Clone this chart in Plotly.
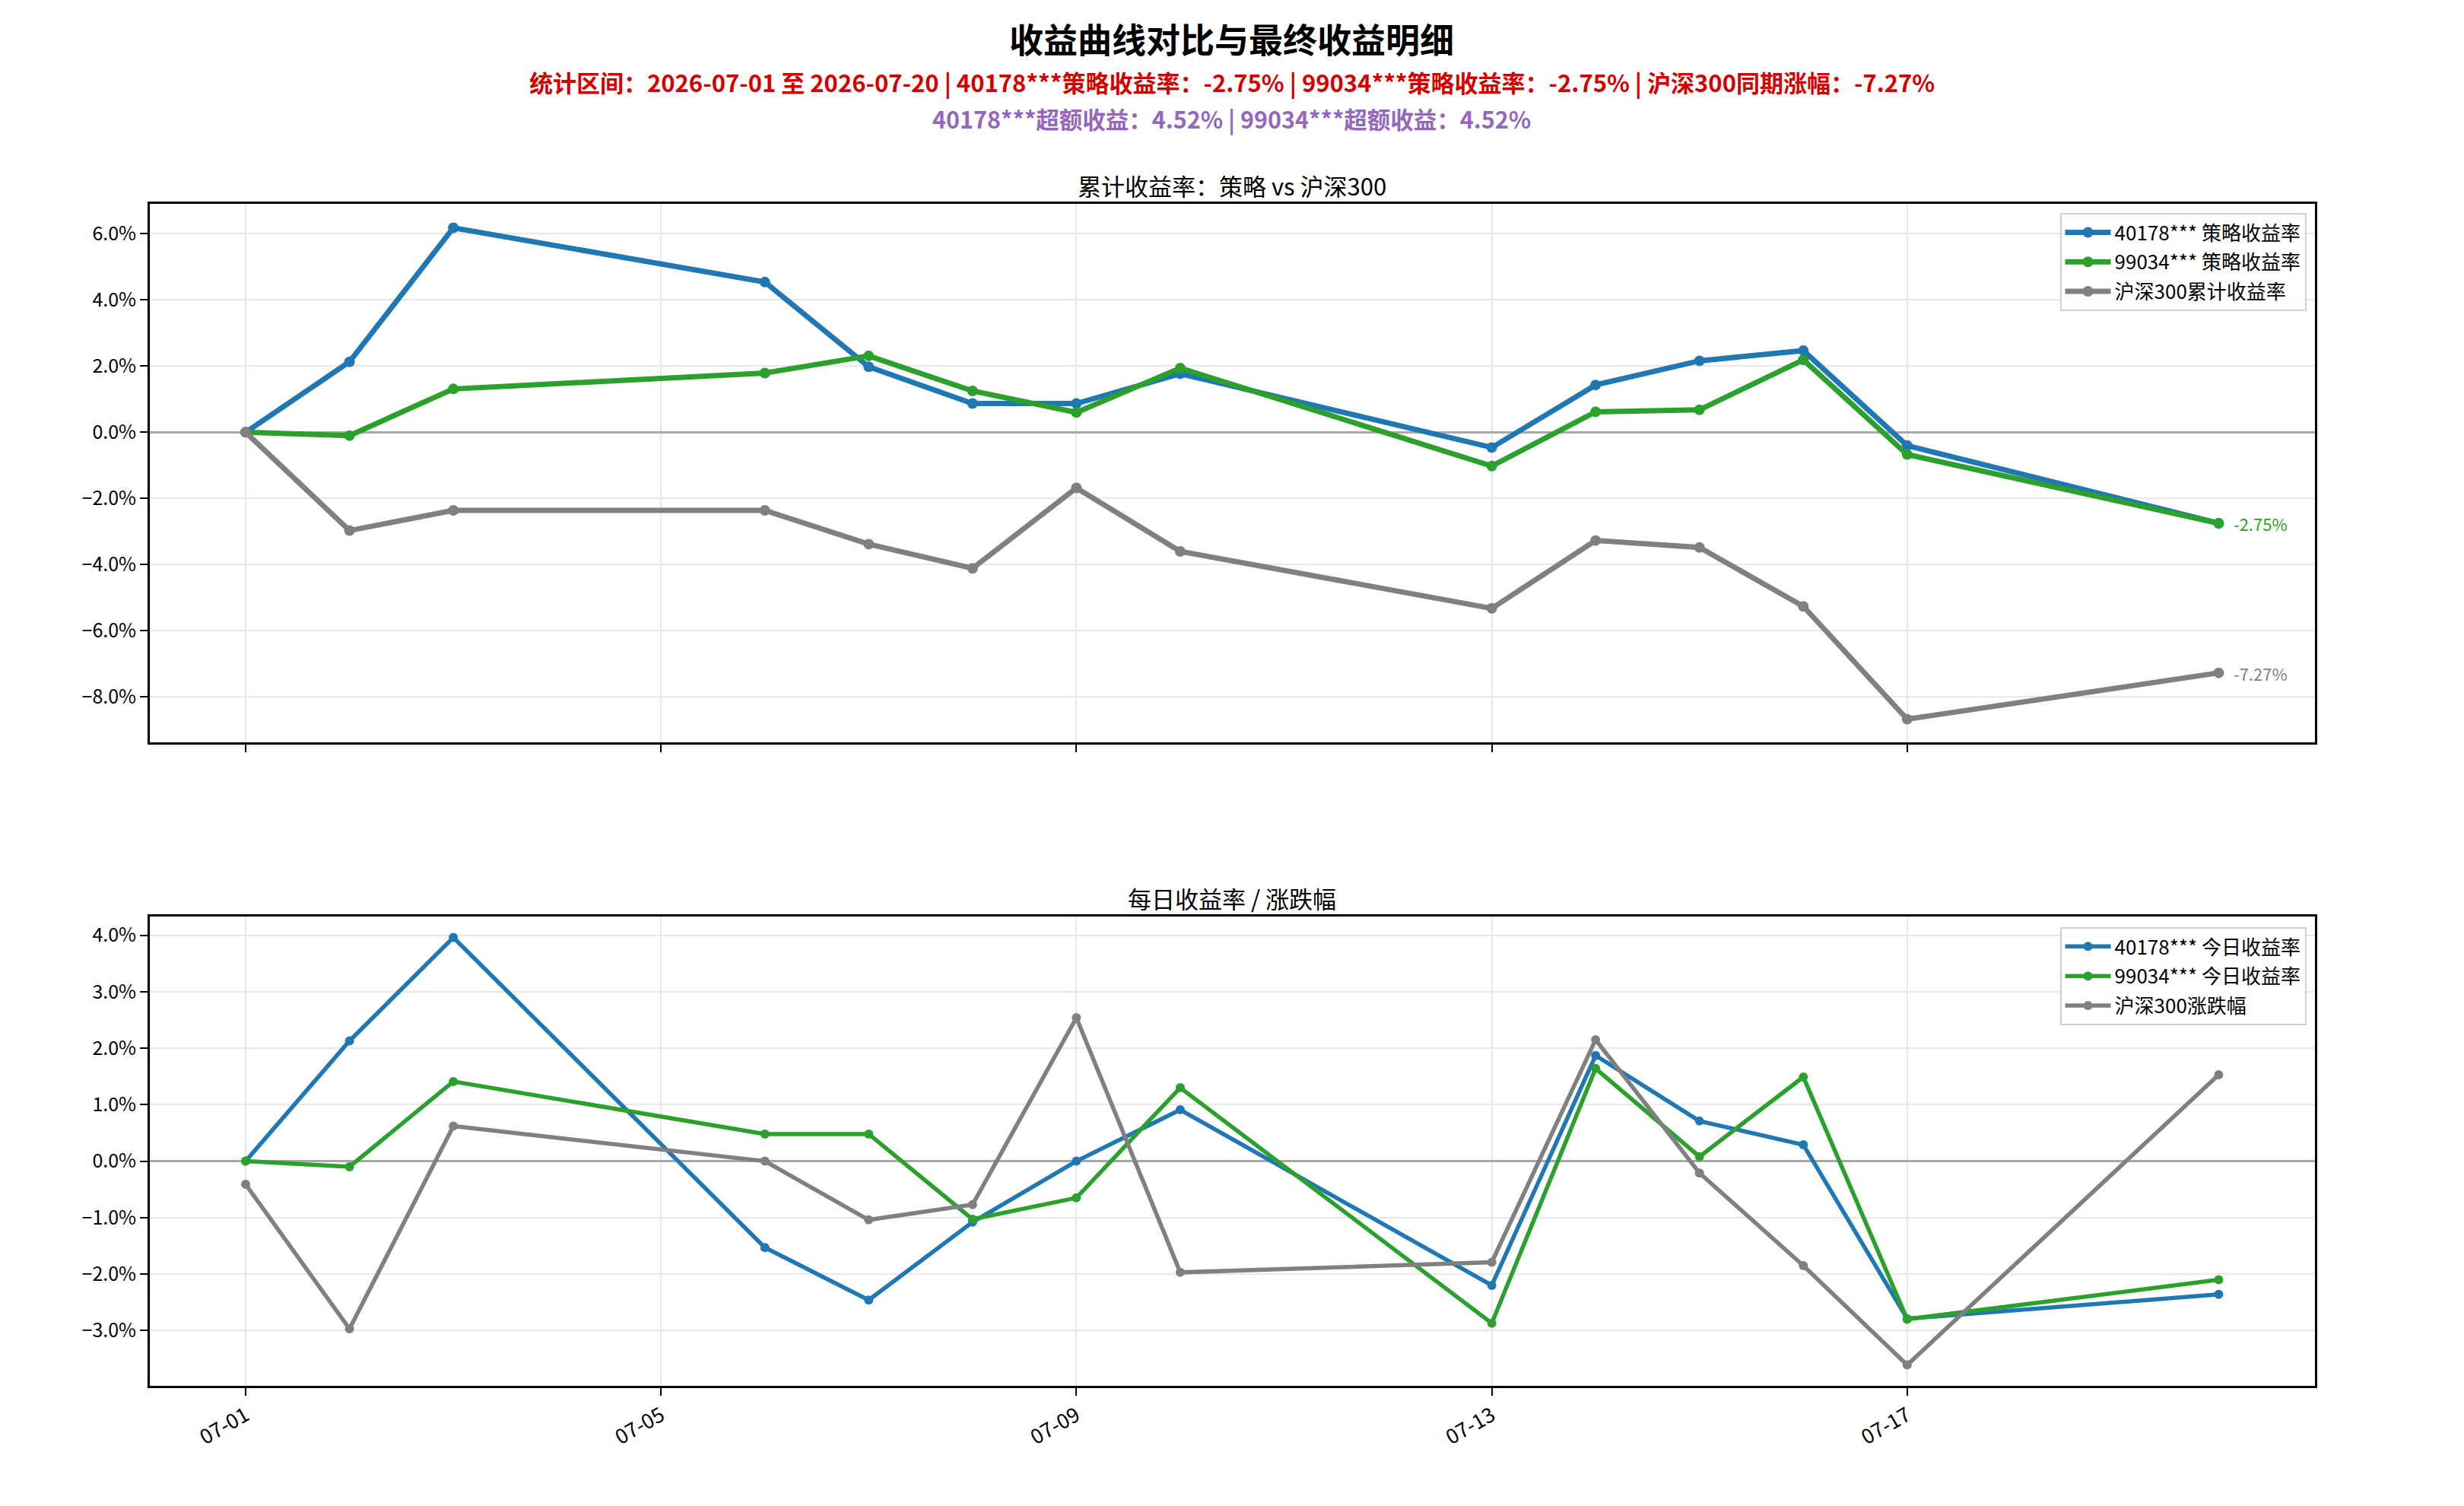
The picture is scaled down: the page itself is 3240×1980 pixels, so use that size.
import plotly.graph_objects as go

# trading days
dates = ['2026-07-01', '2026-07-02', '2026-07-03', '2026-07-06', '2026-07-07',
         '2026-07-08', '2026-07-09', '2026-07-10', '2026-07-13', '2026-07-14',
         '2026-07-15', '2026-07-16', '2026-07-17', '2026-07-20']

# cumulative returns (%)
cum_40178 = [0.00, 2.13, 6.18, 4.54, 1.98, 0.87, 0.87, 1.77, -0.46, 1.43, 2.16, 2.47, -0.40, -2.75]
cum_99034 = [0.00, -0.10, 1.31, 1.79, 2.31, 1.25, 0.60, 1.94, -1.02, 0.62, 0.68, 2.19, -0.67, -2.75]
cum_hs300 = [0.00, -2.97, -2.36, -2.36, -3.38, -4.11, -1.68, -3.60, -5.32, -3.27, -3.48, -5.26, -8.67, -7.27]

# daily returns (%)
day_40178 = [0.00, 2.13, 3.96, -1.53, -2.46, -1.08, 0.00, 0.91, -2.20, 1.87, 0.71, 0.29, -2.79, -2.36]
day_99034 = [0.00, -0.10, 1.41, 0.48, 0.48, -1.03, -0.65, 1.30, -2.87, 1.64, 0.08, 1.49, -2.80, -2.10]
day_hs300 = [-0.41, -2.97, 0.62, 0.00, -1.04, -0.77, 2.54, -1.97, -1.79, 2.15, -0.21, -1.85, -3.61, 1.53]

xticks = ['2026-07-01', '2026-07-05', '2026-07-09', '2026-07-13', '2026-07-17']

BLUE = '#1f77b4'
GREEN = '#2ca02c'
GRAY = '#808080'
FONT = 'Noto Sans CJK SC'

fig = go.Figure()

#top panel: cumulative
fig.add_trace(go.Scatter(x=dates, y=cum_40178, mode='lines+markers', name='40178*** 策略收益率',
                         line=dict(color=BLUE, width=7), marker=dict(size=14), xaxis='x', yaxis='y',
                         legend='legend', legendgroup='a1'))
fig.add_trace(go.Scatter(x=dates, y=cum_99034, mode='lines+markers', name='99034*** 策略收益率',
                         line=dict(color=GREEN, width=7), marker=dict(size=14), xaxis='x', yaxis='y',
                         legend='legend', legendgroup='a2'))
fig.add_trace(go.Scatter(x=dates, y=cum_hs300, mode='lines+markers', name='沪深300累计收益率',
                         line=dict(color=GRAY, width=7), marker=dict(size=14), xaxis='x', yaxis='y',
                         legend='legend', legendgroup='a3'))

#bottom panel: daily
fig.add_trace(go.Scatter(x=dates, y=day_40178, mode='lines+markers', name='40178*** 今日收益率',
                         line=dict(color=BLUE, width=5.5), marker=dict(size=12), xaxis='x2', yaxis='y2',
                         legend='legend2', legendgroup='b1'))
fig.add_trace(go.Scatter(x=dates, y=day_99034, mode='lines+markers', name='99034*** 今日收益率',
                         line=dict(color=GREEN, width=5.5), marker=dict(size=12), xaxis='x2', yaxis='y2',
                         legend='legend2', legendgroup='b2'))
fig.add_trace(go.Scatter(x=dates, y=day_hs300, mode='lines+markers', name='沪深300涨跌幅',
                         line=dict(color=GRAY, width=5.5), marker=dict(size=12), xaxis='x2', yaxis='y2',
                         legend='legend2', legendgroup='b3'))

xrange = ['2026-06-30 01:50', '2026-07-20 22:10']
axis_common = dict(showline=True, mirror=True, linecolor='black', linewidth=2.5,
                   ticks='outside', ticklen=10, tickwidth=2, tickcolor='black',
                   showgrid=True, gridcolor='#e8e8e8', gridwidth=2)
ytick_font = dict(family=FONT, size=25, color='black')
legend_common = dict(xanchor='right', yanchor='top', bgcolor='rgba(255,255,255,0.8)',
                     bordercolor='#d0d0d0', borderwidth=2, font=dict(family=FONT, size=26),
                     tracegroupgap=2, itemwidth=60)

fig.update_layout(
    width=3240, height=1980,
    margin=dict(l=0, r=0, t=0, b=0),
    paper_bgcolor='white', plot_bgcolor='white',
    font=dict(family=FONT, color='black'),
    xaxis=dict(domain=[0.0583, 0.9369], anchor='y', type='date', range=xrange,
               tickvals=xticks, showticklabels=False, **axis_common),
    yaxis=dict(domain=[0.5111, 0.8686], anchor='x', range=[-9.37, 6.90], dtick=2, tick0=0,
               tickformat='.1f', ticksuffix='%', zeroline=True, zerolinecolor='#a8a8a8', zerolinewidth=3,
               tickfont=ytick_font, **axis_common),
    xaxis2=dict(domain=[0.0583, 0.9369], anchor='y2', type='date', range=xrange,
                tickvals=xticks, tickformat='%m-%d', tickangle=-30,
                tickfont=dict(family=FONT, size=27, color='black'), **axis_common),
    yaxis2=dict(domain=[0.0838, 0.3954], anchor='x2', range=[-3.98, 4.33], dtick=1, tick0=0,
                tickformat='.1f', ticksuffix='%', zeroline=True, zerolinecolor='#a8a8a8', zerolinewidth=3,
                tickfont=ytick_font, **axis_common),
    legend=dict(x=0.9335, y=0.8626, **legend_common),
    legend2=dict(x=0.9335, y=0.3884, **legend_common),
    showlegend=True,
)

#titles
fig.add_annotation(text='<b>收益曲线对比与最终收益明细</b>', x=0.4975, y=0.9787, xref='paper', yref='paper',
                   showarrow=False, font=dict(size=45, color='black'), yanchor='middle')
fig.add_annotation(text='<b>统计区间：2026-07-01 至 2026-07-20 | 40178***策略收益率：-2.75% | '
                        '99034***策略收益率：-2.75% | 沪深300同期涨幅：-7.27%</b>',
                   x=0.4975, y=0.9495, xref='paper', yref='paper', showarrow=False,
                   font=dict(size=31, color='#d40000'), yanchor='middle')
fig.add_annotation(text='<b>40178***超额收益：4.52% | 99034***超额收益：4.52%</b>',
                   x=0.4975, y=0.9252, xref='paper', yref='paper', showarrow=False,
                   font=dict(size=30.5, color='#9467bd'), yanchor='middle')
fig.add_annotation(text='累计收益率：策略 vs 沪深300', x=0.4975, y=0.8813, xref='paper', yref='paper',
                   showarrow=False, font=dict(size=31), yanchor='middle')
fig.add_annotation(text='每日收益率 / 涨跌幅', x=0.4975, y=0.408, xref='paper', yref='paper',
                   showarrow=False, font=dict(size=31), yanchor='middle')

#final value labels
fig.add_annotation(text=f'{cum_99034[-1]:.2f}%', x=dates[-1], y=cum_99034[-1], xref='x', yref='y',
                   showarrow=False, xanchor='left', xshift=18, font=dict(size=22, color=GREEN))
fig.add_annotation(text=f'{cum_hs300[-1]:.2f}%', x=dates[-1], y=cum_hs300[-1], xref='x', yref='y',
                   showarrow=False, xanchor='left', xshift=18, font=dict(size=22, color=GRAY))

fig.write_html("out.html")
